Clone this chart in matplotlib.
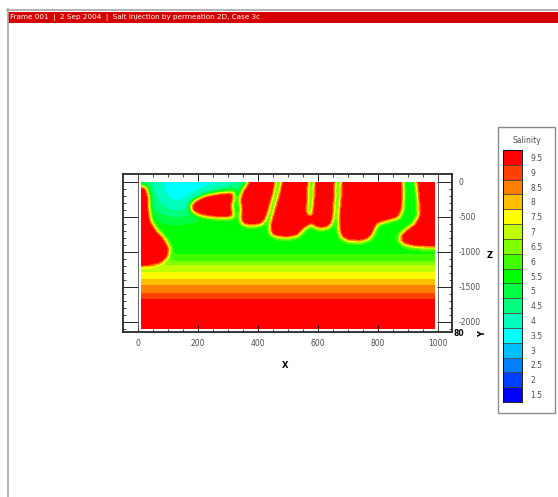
import numpy as np
import matplotlib
matplotlib.use('Agg')
import matplotlib.pyplot as plt
from matplotlib.path import Path
from matplotlib.patches import Rectangle
from matplotlib.lines import Line2D

plt.rcParams['axes.unicode_minus'] = False

# contour levels and their flood colours (small rainbow)
levels = [1.5, 2, 2.5, 3, 3.5, 4, 4.5, 5, 5.5, 6, 6.5, 7, 7.5, 8, 8.5, 9, 9.5]
level_labels = ['1.5', '2', '2.5', '3', '3.5', '4', '4.5', '5', '5.5',
                '6', '6.5', '7', '7.5', '8', '8.5', '9', '9.5']
level_colors = ['#0000ff', '#0040ff', '#0080ff', '#00bfff', '#00ffff', '#00ffbf',
                '#00ff80', '#00ff40', '#00ff00', '#40ff00', '#80ff00', '#bfff00',
                '#ffff00', '#ffbf00', '#ff8000', '#ff4000', '#ff0000']

# background salinity against depth (m)
profile_depth = [0, -500, -950, -1071, -1130, -1190, -1300, -1400, -1471, -1590, -1680, -1750, -2100]
profile_salinity = [5.2, 5.4, 5.6, 5.8, 6.25, 6.75, 7.25, 7.75, 8.25, 8.75, 9.25, 9.8, 10.0]

# fresher water near the surface on the left
fresh_patch = [(55, 20), (400, 20), (320, -50), (230, -110), (190, -230), (180, -400),
               (155, -520), (95, -500), (60, -300), (50, -80)]
fresh_drop = 2.0

# salt fingers (x, z) outlines
finger_left = [(-10, -60), (25, -70), (35, -200), (37, -400), (42, -560), (62, -700),
               (88, -820), (104, -950), (100, -1060), (78, -1150), (40, -1195), (-10, -1195)]
lens_a = [(174, -350), (192, -265), (228, -195), (275, -160), (318, -145), (320, -230),
          (312, -320), (314, -420), (320, -495), (290, -510), (240, -500), (202, -465),
          (182, -410)]
finger_b = [(372, 20), (460, 20), (452, -150), (442, -300), (432, -450), (420, -570),
            (400, -615), (370, -620), (348, -595), (342, -500), (346, -400), (340, -250),
            (350, -130), (362, -50)]
finger_c = [(480, 20), (568, 20), (567, -150), (565, -300), (563, -470), (590, -490),
            (577, -600), (552, -665), (534, -760), (497, -795), (453, -770), (442, -700),
            (442, -600), (452, -450), (462, -300), (472, -150)]
finger_d1 = [(588, 20), (658, 20), (656, -200), (653, -400), (650, -520), (640, -630),
             (610, -668), (583, -625), (580, -470), (584, -300), (587, -150)]
finger_d2 = [(678, 20), (882, 20), (884, -200), (880, -400), (867, -510), (832, -550),
             (797, -595), (787, -685), (774, -795), (745, -845), (703, -840), (680, -785),
             (671, -680), (670, -550), (672, -400), (676, -200)]
finger_e = [(928, 20), (1010, 20), (1010, -930), (965, -930), (923, -920), (888, -885),
            (872, -820), (878, -760), (898, -680), (923, -600), (938, -480), (936, -300),
            (933, -150)]
fingers = [finger_left, lens_a, finger_b, finger_c, finger_d1, finger_d2, finger_e]
finger_salinity = 10.0

x_ticks = [0, 200, 400, 600, 800, 1000]
z_ticks = [-2000, -1500, -1000, -500, 0]


def smooth(a, sx, sy):
    # separable gaussian, edges padded
    def kern(s):
        r = int(3 * s) + 1
        k = np.exp(-0.5 * (np.arange(-r, r + 1) / s) ** 2)
        return k / k.sum(), r
    kx, rx = kern(sx)
    a = np.pad(a, ((0, 0), (rx, rx)), mode='edge')
    a = np.apply_along_axis(lambda r: np.convolve(r, kx, mode='valid'), 1, a)
    ky, ry = kern(sy)
    a = np.pad(a, ((ry, ry), (0, 0)), mode='edge')
    a = np.apply_along_axis(lambda c: np.convolve(c, ky, mode='valid'), 0, a)
    return a


# build the salinity field on the model grid
x = np.arange(12.5, 988, 2.5)
z = np.arange(-8, -2091, -5)
X, Z = np.meshgrid(x, z)
pts = np.column_stack([X.ravel(), Z.ravel()])

field = np.interp(-Z, -np.array(profile_depth), profile_salinity)
patch = Path(fresh_patch).contains_points(pts).reshape(X.shape).astype(float)
field -= fresh_drop * smooth(patch, 20, 24)
for poly in fingers:
    inside = Path(poly).contains_points(pts).reshape(X.shape)
    field[inside] = finger_salinity
field = smooth(field, 3.0, 6.0)

bounds = list(np.array(levels) - 0.25) + [10.5]

W, H = 558, 497
fig = plt.figure(figsize=(W / 100, H / 100), dpi=100)


def fx(px):
    return px / W


def fy(py):
    return 1 - py / H


# frame border and header
fig.add_artist(Line2D([fx(7), fx(558)], [fy(9.5), fy(9.5)], color='0.65', lw=1.2))
fig.add_artist(Line2D([fx(7.5), fx(7.5)], [fy(9), fy(497)], color='0.65', lw=1.2))
fig.add_artist(Rectangle((fx(8), fy(23)), fx(550), 11 / H, transform=fig.transFigure,
                         fc='#d40000', ec='none'))
fig.text(fx(10), fy(17.5), 'Frame 001  |  2 Sep 2004  |  Salt injection by permeation 2D, Case 3c',
         color='white', fontsize=5.2, va='center', ha='left')

# contour plot
ax = fig.add_axes([fx(123), fy(332), 329 / W, 158 / H])
ax.contourf(X, Z, field, levels=bounds, colors=level_colors)
ax.axvline(0, color='0.3', lw=0.6)
ax.axvline(1000, color='0.3', lw=0.6)
ax.set_xlim(-50, 1047)
ax.set_ylim(-2143, 114)
ax.set_xticks(x_ticks)
ax.set_xticklabels([str(v) for v in x_ticks])
ax.set_xticks(np.arange(0, 1001, 50), minor=True)
ax.set_yticks(z_ticks)
ax.set_yticklabels([str(v) for v in z_ticks])
ax.set_yticks(np.arange(-2100, 1, 100), minor=True)
ax.tick_params(axis='x', which='major', direction='in', length=5, width=0.6,
               top=True, bottom=True, labelsize=5.5, labelcolor='0.3', pad=5)
ax.tick_params(axis='x', which='minor', direction='in', length=2, width=0.5,
               top=True, bottom=True)
ax.tick_params(axis='y', which='major', direction='in', length=10.8, width=0.6,
               left=True, right=True, labelleft=False, labelright=True,
               labelsize=5.5, labelcolor='0.3', pad=5)
ax.tick_params(axis='y', which='minor', direction='in', length=2, width=0.5,
               left=True, right=True)
for s in ax.spines.values():
    s.set_linewidth(1.3)
    s.set_color('0.15')

fig.text(fx(285), fy(365), 'X', fontsize=6, fontweight='bold', ha='center', va='center')
fig.text(fx(490), fy(255), 'Z', fontsize=6, fontweight='bold', ha='center', va='center')
fig.text(fx(459), fy(334), '80', fontsize=5.5, fontweight='bold', ha='center', va='center')
fig.text(fx(483), fy(334), 'Y', fontsize=6, fontweight='bold', ha='center', va='center',
         rotation=90)

# legend
fig.add_artist(Rectangle((fx(498), fy(413)), 57 / W, 286 / H, transform=fig.transFigure,
                         fill=False, ec='0.55', lw=1.0))
fig.text(fx(527), fy(140), 'Salinity', fontsize=5.5, color='0.3', ha='center', va='center')
lax = fig.add_axes([fx(503), fy(402), 19 / W, 252 / H])
lax.barh(range(len(levels)), 1, height=1, color=level_colors, edgecolor='0.25', linewidth=0.5)
lax.set_xlim(0, 1)
lax.set_ylim(-0.5, len(levels) - 0.5)
lax.set_xticks([])
lax.set_yticks(range(len(levels)))
lax.set_yticklabels(level_labels)
lax.yaxis.tick_right()
lax.tick_params(axis='y', length=0, labelsize=5.5, labelcolor='0.3', pad=6)
for s in lax.spines.values():
    s.set_linewidth(0.6)

fig.savefig('out.png', dpi=100)
